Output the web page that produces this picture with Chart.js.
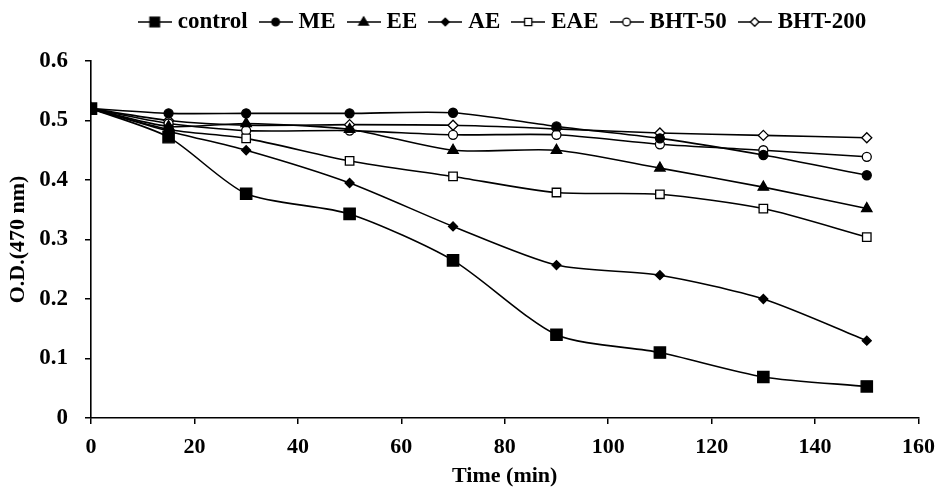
<!DOCTYPE html>
<html><head><meta charset="utf-8">
<script src="https://cdn.jsdelivr.net/npm/chart.js@4/dist/chart.umd.min.js"></script>
<style>html,body{margin:0;padding:0;background:#fff}#wrap{width:945px;height:496px;position:relative}</style>
</head><body><div id="wrap"><canvas id="c"></canvas></div>
<script>
// ---- data ----
const times = [0, 15, 30, 50, 70, 90, 110, 130, 150];
const seriesNames = ['control', 'ME', 'EE', 'AE', 'EAE', 'BHT-50', 'BHT-200'];
const control = [0.52, 0.472, 0.377, 0.343, 0.265, 0.140, 0.110, 0.069, 0.053];
const ME      = [0.52, 0.512, 0.512, 0.512, 0.513, 0.490, 0.470, 0.442, 0.408];
const EE      = [0.52, 0.490, 0.495, 0.485, 0.450, 0.450, 0.420, 0.388, 0.352];
const AE      = [0.52, 0.482, 0.450, 0.395, 0.322, 0.257, 0.240, 0.200, 0.130];
const EAE     = [0.52, 0.485, 0.470, 0.432, 0.406, 0.379, 0.376, 0.352, 0.304];
const BHT50   = [0.52, 0.495, 0.483, 0.483, 0.476, 0.476, 0.460, 0.450, 0.439];
const BHT200  = [0.52, 0.500, 0.492, 0.493, 0.492, 0.486, 0.479, 0.475, 0.471];
const xTickValues = [0, 20, 40, 60, 80, 100, 120, 140, 160];
const yTickValues = [0, 0.1, 0.2, 0.3, 0.4, 0.5, 0.6];
const xTitle = 'Time (min)';
const yTitle = 'O.D.(470 nm)';

const seriesValues = [control, ME, EE, AE, EAE, BHT50, BHT200];
// marker styles: [pointStyle, radius, filled]
const markerStyles = [
  ['rect', 8, true],
  ['circle', 4.5, true],
  ['triangle', 6, true],
  ['rectRot', 4.5, true],
  ['rect', 6, false],
  ['circle', 4.5, false],
  ['rectRot', 5, false]
];

const FONT = "'Liberation Serif', 'Times New Roman', serif";

function legendIcon(style, r, filled) {
  const w = 34, h = 18;
  const cv = document.createElement('canvas');
  cv.width = w; cv.height = h;
  const g = cv.getContext('2d');
  g.strokeStyle = '#000'; g.lineWidth = 1.6;
  g.beginPath(); g.moveTo(0, h / 2); g.lineTo(w, h / 2); g.stroke();
  const cx = w / 2, cy = h / 2;
  g.fillStyle = filled ? '#000' : '#fff';
  g.lineWidth = 1.3;
  g.beginPath();
  const rr = r * 0.85;
  if (style === 'circle') { g.arc(cx, cy, rr, 0, Math.PI * 2); }
  else if (style === 'rect') { const s = rr * Math.SQRT1_2; g.rect(cx - s, cy - s, 2 * s, 2 * s); }
  else if (style === 'rectRot') { g.moveTo(cx - rr, cy); g.lineTo(cx, cy - rr); g.lineTo(cx + rr, cy); g.lineTo(cx, cy + rr); g.closePath(); }
  else if (style === 'triangle') { g.moveTo(cx, cy - rr); g.lineTo(cx + rr * 0.95, cy + rr * 0.6); g.lineTo(cx - rr * 0.95, cy + rr * 0.6); g.closePath(); }
  g.fill(); g.stroke();
  return cv;
}

const datasets = seriesNames.map((name, i) => {
  const [ps, r, filled] = markerStyles[i];
  return {
    label: name,
    data: times.map((t, k) => ({ x: t, y: seriesValues[i][k] })),
    borderColor: '#000',
    borderWidth: 1.6,
    pointStyle: ps,
    pointRadius: r,
    pointHoverRadius: r,
    pointBackgroundColor: filled ? '#000' : '#fff',
    pointBorderColor: '#000',
    pointBorderWidth: 1.3,
    tension: 0.25,
    fill: false,
    legendIcon: legendIcon(ps, r, filled)
  };
});

const legendGap = {
  id: 'legendGap',
  beforeLayout(chart) {
    const lg = chart.legend;
    if (lg && !lg._gapPatched) {
      const f = lg.fit;
      lg.fit = function () { f.call(this); this.height += 17.5; };
      lg._gapPatched = true;
    }
  }
};

new Chart(document.getElementById('c'), {
  type: 'line',
  data: { datasets },
  plugins: [legendGap],
  options: {
    responsive: true,
    maintainAspectRatio: false,
    animation: false,
    layout: { padding: { left: 0, right: 25, top: -6, bottom: 0 } },
    plugins: {
      tooltip: { enabled: false },
      legend: {
        position: 'top',
        fullSize: false,
        align: 'center',
        labels: {
          usePointStyle: true,
          pointStyleWidth: 23,
          padding: 16.5,
          color: '#000',
          font: { family: FONT, size: 23, weight: 'bold' },
          generateLabels(chart) {
            return chart.data.datasets.map((ds, i) => ({
              text: ds.label,
              pointStyle: ds.legendIcon,
              fillStyle: '#000',
              strokeStyle: '#000',
              lineWidth: 0,
              hidden: false,
              datasetIndex: i,
              fontColor: '#000'
            }));
          }
        }
      }
    },
    scales: {
      x: {
        type: 'linear',
        min: 0, max: 160,
        afterFit(s) { s.height = 78; },
        afterBuildTicks(s) { s.ticks = xTickValues.map(v => ({ value: v })); },
        grid: { display: true, drawOnChartArea: false, drawTicks: true, tickLength: 6, color: '#000', lineWidth: 1.5 },
        border: { display: true, color: '#000', width: 1.6 },
        ticks: { color: '#000', padding: 10, maxRotation: 0, font: { family: FONT, size: 22, weight: 'bold' } },
        title: { display: true, text: xTitle, color: '#000', padding: { top: 0, bottom: 6 }, font: { family: FONT, size: 22, weight: 'bold' } }
      },
      y: {
        type: 'linear',
        min: 0, max: 0.6,
        afterFit(s) { s.width = 91; },
        afterBuildTicks(s) { s.ticks = yTickValues.map(v => ({ value: v })); },
        grid: { display: true, drawOnChartArea: false, drawTicks: true, tickLength: 6, color: '#000', lineWidth: 1.5 },
        border: { display: true, color: '#000', width: 1.6 },
        ticks: { color: '#000', padding: 17, font: { family: FONT, size: 23, weight: 'bold' },
                 callback: v => String(Math.round(v * 10) / 10) },
        title: { display: true, text: yTitle, color: '#000', padding: { top: 5, bottom: 0 }, font: { family: FONT, size: 22, weight: 'bold' } }
      }
    }
  }
});
</script>
</body></html>
